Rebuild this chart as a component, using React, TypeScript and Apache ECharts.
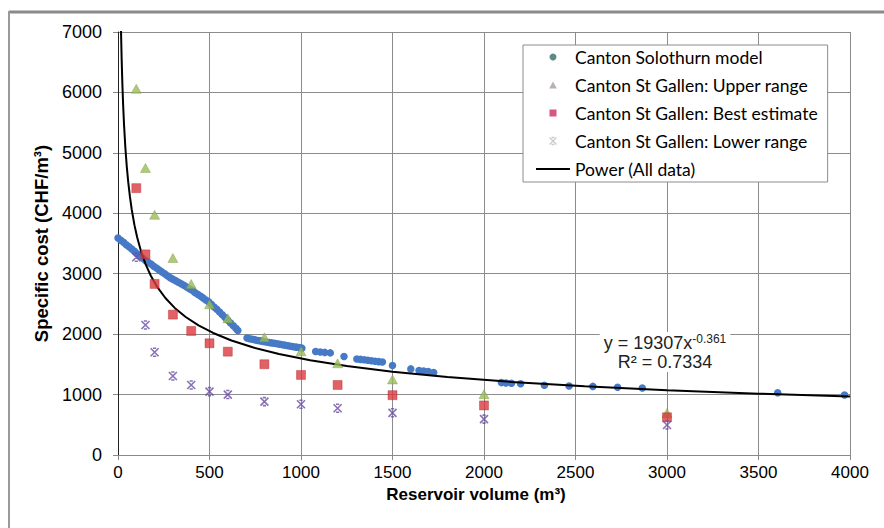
import React, { useEffect, useRef } from "react";
import * as echarts from "echarts";

// Canton Solothurn model (volume m3, specific cost CHF/m3)
const solothurnVolumes = [
  0, 15, 30, 45, 60, 75, 90, 105, 120, 135, 150, 165, 180, 195, 210, 225, 240, 255, 270, 285,
  300, 315, 330, 345, 360, 375, 390, 405, 420, 435, 450, 465, 480, 495, 510, 525, 540, 555, 570,
  585, 600, 615, 630, 645, 655,
  705, 720, 735, 750, 765, 780, 795, 810, 825, 840, 855, 870, 885, 900, 915, 930, 945, 960, 975,
  990, 1005,
  1080, 1105, 1130, 1160, 1235, 1305, 1325, 1345, 1365, 1385, 1405, 1425, 1445, 1500,
  1600, 1645, 1670, 1695, 1725, 2095, 2120, 2150, 2200, 2330, 2465, 2595, 2730, 2865, 3605, 3970,
];
const solothurnCosts = [
  3590, 3555, 3520, 3480, 3445, 3410, 3370, 3330, 3295, 3255, 3220, 3190, 3160, 3125, 3095, 3060,
  3030, 3000, 2965, 2935, 2910, 2885, 2860, 2835, 2810, 2780, 2750, 2725, 2690, 2660, 2630, 2600,
  2565, 2535, 2495, 2450, 2410, 2365, 2320, 2275, 2230, 2185, 2140, 2095, 2060,
  1935, 1925, 1915, 1905, 1895, 1888, 1880, 1870, 1862, 1855, 1848, 1840, 1832, 1825, 1815, 1808,
  1800, 1792, 1785, 1778, 1768,
  1712, 1705, 1698, 1690, 1630, 1590, 1582, 1575, 1568, 1560, 1552, 1545, 1538, 1480,
  1425, 1398, 1390, 1380, 1365, 1198, 1192, 1188, 1178, 1155, 1143, 1135, 1122, 1110, 1030, 993,
];

// Canton St Gallen
const stGallenVolumes = [100, 150, 200, 300, 400, 500, 600, 800, 1000, 1200, 1500, 2000, 3000];
const upperRange = [6060, 4750, 3975, 3260, 2830, 2495, 2263, 1948, 1715, 1518, 1250, 1006, 695];
const bestEstimate = [4416, 3320, 2831, 2323, 2053, 1849, 1710, 1502, 1325, 1159, 990, 820, 624];
const lowerRange = [3273, 2152, 1700, 1308, 1159, 1048, 1000, 883, 839, 773, 698, 594, 497];

// Power trendline  y = 19307 x^-0.361  (R² = 0.7334)
const trendCoefficient = 19307;
const trendExponent = -0.361;
const trendVolumes = [
  15, 17, 20, 24, 28, 33, 40, 48, 56, 65, 75, 90, 105, 125, 150, 180, 215, 260, 310, 370, 440,
  520, 620, 740, 880, 1050, 1250, 1500, 1800, 2150, 2550, 3000, 3500, 4000,
];

const xTicks = { min: 0, max: 4000, interval: 500 };
const yTicks = { min: 0, max: 7000, interval: 1000 };

const seriesNames = [
  "Canton Solothurn model",
  "Canton St Gallen: Upper range",
  "Canton St Gallen: Best estimate",
  "Canton St Gallen: Lower range",
  "Power (All data)",
];

const triangleSymbol = "path://M5,0 L10,9 L0,9 Z";
const squareSymbol = "path://M0,0 L10,0 L10,10 L0,10 Z";
const starSymbol = "path://M0,0 L10,10 M10,0 L0,10 M3,0 L7,0 M3,10 L7,10";
const lineIcon = "path://M0,0 L34,0 L34,2 L0,2 Z";

export default function App() {
  const ref = useRef<HTMLDivElement>(null);

  useEffect(() => {
    document.body.style.margin = "0";
    if (!ref.current) return;
    const chart = echarts.init(ref.current, undefined, { renderer: "svg" });

    const pair = (xs: number[], ys: number[]) => xs.map((x, i) => [x, ys[i]]);
    const trend = trendVolumes.map((x) => [x, trendCoefficient * Math.pow(x, trendExponent)]);

    const tickFont = "'Liberation Sans', Arial, sans-serif";
    const plain = (v: number) => String(v);

    chart.setOption({
      animation: false,
      backgroundColor: "#ffffff",
      grid: { left: 118, right: 34, top: 32, bottom: 73, containLabel: false },
      xAxis: {
        type: "value",
        min: xTicks.min,
        max: xTicks.max,
        interval: xTicks.interval,
        name: "Reservoir volume (m³)",
        nameLocation: "middle",
        nameGap: 30,
        nameTextStyle: {
          fontFamily: tickFont,
          fontWeight: "bold",
          fontSize: 17,
          color: "#000",
          padding: [0, 16, 0, 0],
        },
        axisLine: { show: true, lineStyle: { color: "#8a8a8a", width: 1 } },
        axisTick: { show: true, length: 5, lineStyle: { color: "#8a8a8a" } },
        axisLabel: {
          margin: 9,
          fontFamily: tickFont,
          fontSize: 17,
          color: "#000",
          formatter: plain,
        },
        splitLine: { show: true, lineStyle: { color: "#8c8c8c", width: 1 } },
      },
      yAxis: {
        type: "value",
        min: yTicks.min,
        max: yTicks.max,
        interval: yTicks.interval,
        name: "Specific cost (CHF/m³)",
        nameLocation: "middle",
        nameGap: 58,
        nameTextStyle: {
          fontFamily: tickFont,
          fontWeight: "bold",
          fontSize: 18.5,
          color: "#000",
        },
        axisLine: { show: true, lineStyle: { color: "#222", width: 1 } },
        axisTick: { show: true, length: 5, lineStyle: { color: "#8a8a8a" } },
        axisLabel: {
          margin: 16,
          fontFamily: tickFont,
          fontSize: 18,
          color: "#000",
          formatter: plain,
        },
        splitLine: { show: true, lineStyle: { color: "#8c8c8c", width: 1 } },
      },
      legend: {
        orient: "vertical",
        left: 523,
        top: 45,
        itemWidth: 34,
        itemHeight: 7,
        itemGap: 10,
        padding: [3, 10, 4, 13],
        backgroundColor: "#ffffff",
        borderColor: "#8c8c8c",
        borderWidth: 1,
        borderRadius: 0,
        textStyle: { fontFamily: "Lato, 'Open Sans', sans-serif", fontSize: 17.5, color: "#000" },
        data: [
          { name: seriesNames[0], icon: "circle", itemStyle: { color: "#5e8a86", borderWidth: 0 } },
          {
            name: seriesNames[1],
            icon: triangleSymbol,
            itemStyle: { color: "#a89ca8", borderWidth: 0 },
          },
          {
            name: seriesNames[2],
            icon: squareSymbol,
            itemStyle: { color: "#c8305e", borderWidth: 0 },
          },
          {
            name: seriesNames[3],
            icon: starSymbol,
            itemStyle: { color: "transparent", borderColor: "#bdbdc6", borderWidth: 1.3 },
          },
          {
            name: seriesNames[4],
            icon: lineIcon,
            itemStyle: { color: "#000", borderWidth: 0 },
          },
        ],
      },
      series: [
        {
          name: seriesNames[0],
          type: "scatter",
          symbol: "circle",
          symbolSize: 7.5,
          itemStyle: { color: "#4679c6", opacity: 1 },
          data: pair(solothurnVolumes, solothurnCosts),
          z: 2,
        },
        {
          name: seriesNames[4],
          type: "line",
          symbol: "none",
          smooth: false,
          clip: true,
          lineStyle: { color: "#000", width: 2 },
          itemStyle: { color: "#000" },
          data: trend,
          z: 3,
        },
        {
          name: seriesNames[1],
          type: "scatter",
          symbol: triangleSymbol,
          symbolSize: [10, 9],
          itemStyle: { color: "#9bbb59", borderColor: "#7e9c3e", borderWidth: 0.5 },
          data: pair(stGallenVolumes, upperRange),
          z: 4,
        },
        {
          name: seriesNames[2],
          type: "scatter",
          symbol: squareSymbol,
          symbolSize: 9,
          itemStyle: { color: "#d9393d", borderColor: "#b02a2e", borderWidth: 0.5 },
          data: pair(stGallenVolumes, bestEstimate),
          z: 5,
        },
        {
          name: seriesNames[3],
          type: "scatter",
          symbol: starSymbol,
          symbolSize: 8,
          itemStyle: { color: "transparent", borderColor: "#6a4ca2", borderWidth: 1.6 },
          data: pair(stGallenVolumes, lowerRange),
          z: 6,
        },
      ],
      graphic: [
        {
          type: "line",
          shape: { x1: 9, y1: 12, x2: 884, y2: 12 },
          style: { stroke: "#8a8a8a", lineWidth: 3 },
          z: 100,
        },
        {
          type: "line",
          shape: { x1: 9, y1: 11, x2: 9, y2: 528 },
          style: { stroke: "#9a9a9a", lineWidth: 2 },
          z: 100,
        },
        {
          type: "text",
          x: 665,
          y: 332,
          z: 100,
          style: {
            text: "{a|y = 19307x}{s|-0.361}\n{a|R² = 0.7334}",
            align: "center",
            verticalAlign: "top",
            backgroundColor: "#ffffff",
            padding: [1, 4, 1, 4],
            rich: {
              a: { fontSize: 18, lineHeight: 19, fontFamily: tickFont, fill: "#222", color: "#222" },
              s: {
                fontSize: 12,
                lineHeight: 19,
                verticalAlign: "top",
                padding: [0, 0, 8, 0],
                fontFamily: tickFont,
                fill: "#222",
                color: "#222",
              },
            },
          },
        },
      ],
    });

    return () => chart.dispose();
  }, []);

  return <div ref={ref} style={{ width: 884, height: 528 }} />;
}
